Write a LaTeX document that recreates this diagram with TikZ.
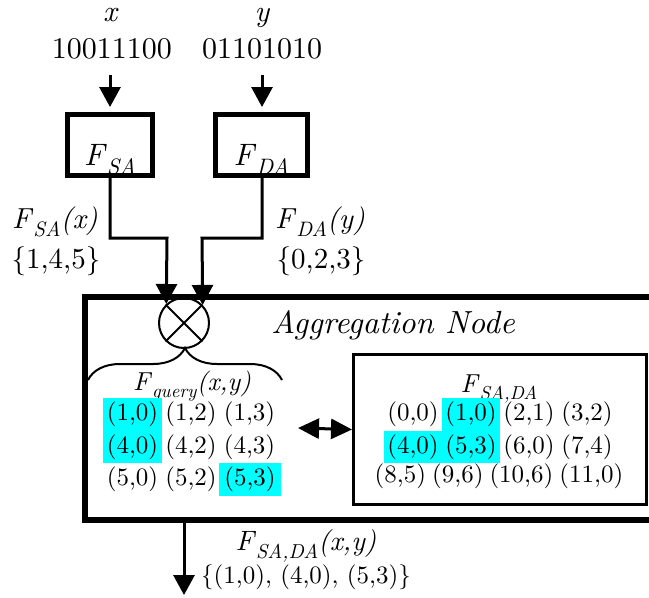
\documentclass[tikz,border=0pt]{standalone}
\usepackage{fontspec}
\setmainfont{lmroman10}[Extension=.otf, UprightFont=*-regular, ItalicFont=*-italic, BoldFont=*-bold, BoldItalicFont=*-bolditalic]
\usetikzlibrary{arrows.meta,decorations.pathreplacing}
\definecolor{hlc}{RGB}{0,255,255}
\newcommand\sbs[1]{\raisebox{-0.3em}{\scalebox{0.72}{#1}}}
\newcommand\fsz[1]{\fontsize{#1}{#1}\selectfont}
\begin{document}
\begin{tikzpicture}[x=1pt,y=1pt,
  txt/.style={inner sep=0pt, anchor=base},
  conn/.style={line width=3pt},
  arr/.style={line width=3pt, -{Triangle[length=20pt,width=21pt]}},
  fbox/.style={draw, line width=5pt, minimum height=61pt, inner sep=0pt,
               text height=40pt, text depth=0pt, font=\fsz{31}},
  cell/.style={inner sep=0pt, minimum width=58.5pt, minimum height=32.7pt, font=\fsz{25}},
  rcell/.style={cell, minimum width=58pt},
  hl/.style={fill=hlc},
]
\useasboundingbox (0,0) rectangle (649,-598);

% inputs
\node[txt, font=\fsz{30}\itshape] (xl) at (110,-21) {x};
\node[txt, font=\fsz{30}\itshape] (yl) at (262,-21) {y};
\node[txt, font=\fsz{30}] (xn) at (112,-58) {10011100};
\node[txt, font=\fsz{30}] (yn) at (262,-58) {01101010};

% function boxes
\node[fbox, minimum width=85pt] (fsa) at (110,-145) {\textit{F}\sbs{\textit{SA}}};
\node[fbox, minimum width=92pt] (fda) at (261.5,-145) {\textit{F}\sbs{\textit{DA}}};

\coordinate (xa) at (110,-75);
\coordinate (ya) at (262,-75);
\draw[arr, shorten >=5pt] (xa) -- (fsa.north);
\draw[arr, shorten >=5pt] (ya) -- (ya |- fda.north);

% side labels
\node[txt, font=\fsz{29}] (sl1) at (55,-228) {\textit{F}\sbs{\textit{SA}}\textit{(x)}};
\node[txt, font=\fsz{29}] (sl2) at (56,-268) {\{1,4,5\}};
\node[txt, font=\fsz{29}] (sr1) at (320,-228) {\textit{F}\sbs{\textit{DA}}\textit{(y)}};
\node[txt, font=\fsz{29}] (sr2) at (321,-268) {\{0,2,3\}};

% aggregation node box
\node[draw, line width=6pt, anchor=north west, minimum width=640pt,
      minimum height=223.5pt, inner sep=0pt] (agg) at (81.5,-293.5) {};
\node[txt, font=\fsz{32}\itshape] (aggl) at (393,-333) {Aggregation Node};

% combiner
\node[draw, circle, line width=2pt, minimum size=50pt, inner sep=0pt] (circ) at (184,-323) {};
\draw[line width=2pt] (circ.north west) -- (circ.south east)
                      (circ.north east) -- (circ.south west);

\coordinate (j1) at (167,-238);
\coordinate (j2) at (202,-238);
\draw[arr] (fsa.south) |- (j1) -- (circ.133);
\draw[arr] (ya |- fda.south) |- (j2) -- (circ.44);

% brace
\coordinate (bl) at (88,-380);
\coordinate (br) at (282,-380);
\draw[line width=2pt, decorate, decoration={brace, amplitude=32pt}] (bl) -- (br);

\node[txt, font=\fsz{26}] (fq) at (192,-390) {\textit{F}\sbs{\textit{query}}\textit{(x,y)}};

% query cells
\node[cell, hl] (q11) at (132.5,-414.3) {(1,0)};
\node[cell]     (q12) at (191,-414.3) {(1,2)};
\node[cell]     (q13) at (249.5,-414.3) {(1,3)};
\node[cell, hl] (q21) at (132.5,-447) {(4,0)};
\node[cell]     (q22) at (191,-447) {(4,2)};
\node[cell]     (q23) at (249.5,-447) {(4,3)};
\node[cell]     (q31) at (132.5,-479.7) {(5,0)};
\node[cell]     (q32) at (191,-479.7) {(5,2)};
\node[cell, hl, minimum width=62pt] (q33) at (250,-479.7) {(5,3)};

% F_SA,DA box
\node[draw, line width=3pt, anchor=north west, minimum width=293pt,
      minimum height=150pt, inner sep=0pt] (sada) at (352,-353) {};
\node[txt, font=\fsz{26}] (sadal) at (499,-392) {\textit{F}\sbs{\textit{SA,DA}}};

\node[rcell]     (s11) at (413,-414.3) {(0,0)};
\node[rcell, hl] (s12) at (471,-414.3) {(1,0)};
\node[rcell]     (s13) at (529,-414.3) {(2,1)};
\node[rcell]     (s14) at (587,-414.3) {(3,2)};
\node[rcell, hl] (s21) at (413,-447) {(4,0)};
\node[rcell, hl] (s22) at (471,-447) {(5,3)};
\node[rcell]     (s23) at (529,-447) {(6,0)};
\node[rcell]     (s24) at (587,-447) {(7,4)};
\node[txt, font=\fsz{25}] (s3) at (499,-482) {\spaceskip=6pt (8,5) (9,6) (10,6) (11,0)};

% double arrow
\coordinate (da) at (298,-428);
\draw[line width=3pt, {Triangle[length=21pt,width=20pt]}-{Triangle[length=21pt,width=20pt]}]
  (da) -- (sada.west);

% output
\coordinate (bot) at (184,-595);
\draw[arr] (circ |- agg.south) -- (bot);
\node[txt, font=\fsz{28}] (ol) at (306,-550) {\textit{F}\sbs{\textit{SA,DA}}\textit{(x,y)}};
\node[txt, font=\fsz{25}] (os) at (306,-583) {\{(1,0), (4,0), (5,3)\}};
\end{tikzpicture}
\end{document}
